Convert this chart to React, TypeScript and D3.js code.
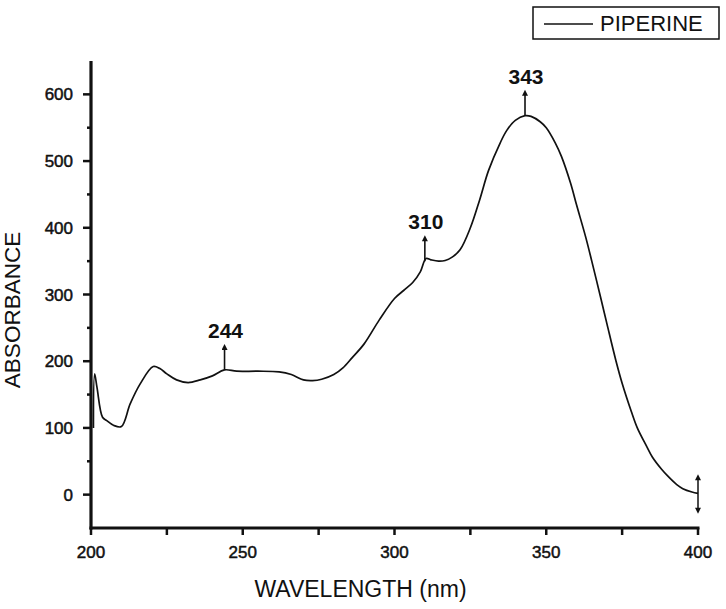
import * as d3 from 'd3';
import { useEffect, useRef } from 'react';

// UV-Vis spectrum of piperine
const wavelength = [
  200.8, 201.2, 202, 203.8, 205.2, 207.4, 210, 212.9, 216.2, 220.5, 222.7, 225, 228.2, 232, 236, 240, 244,
  248, 255, 262, 266, 270, 273, 276, 280, 283, 286, 290, 295, 300, 303, 306, 308.5, 310.4, 312, 314.5, 316.7,
  319, 321.6, 325, 328, 331, 334.8, 337, 339.8, 343, 345, 348, 350, 353, 355, 358, 360, 363, 365, 368, 370,
  373, 375, 378, 380, 383, 385, 388, 390, 393, 395, 398, 400,
];
const absorbance = [
  100, 181, 160, 116, 111, 104, 102, 136, 166, 192, 189, 181, 172, 168, 172, 178, 187,
  185, 185, 184, 180, 172, 171, 173, 180, 190, 205, 226, 262, 294, 306, 318, 334, 354, 352, 350, 351,
  356, 367, 400, 441, 486, 527, 546, 561, 568, 567, 559, 550, 527, 507, 467, 434, 386, 350, 294, 256,
  200, 167, 125, 100, 73, 56, 38, 28, 15, 9, 4, 2,
];

const xTicks = [200, 250, 300, 350, 400];
const xMinor = [225, 275, 325, 375];
const yTicks = [0, 100, 200, 300, 400, 500, 600];
const yMinor = [50, 150, 250, 350, 450, 550];

const peaks = [244, 310, 343];

const FONT = '"Liberation Sans", Arial, Helvetica, sans-serif';
const INK = '#111';

const App = () => {
  const svgRef = useRef<SVGSVGElement>(null);

  useEffect(() => {
    const width = 726;
    const height = 609;

    const svg = d3.select(svgRef.current);
    svg.selectAll('*').remove();
    svg.attr('width', width).attr('height', height);

    svg.append('rect').attr('width', width).attr('height', height).attr('fill', '#fff');

    const x = d3.scaleLinear().domain([200, 400]).range([91, 698]);
    const y = d3.scaleLinear().domain([-50, 650]).range([528, 61]);

    const defs = svg.append('defs');
    const head = (id: string, orient: string) =>
      defs
        .append('marker')
        .attr('id', id)
        .attr('viewBox', '0 0 10 10')
        .attr('refX', 5)
        .attr('refY', 5)
        .attr('markerWidth', 6)
        .attr('markerHeight', 7)
        .attr('markerUnits', 'userSpaceOnUse')
        .attr('orient', orient)
        .append('path')
        .attr('d', 'M0,10 L5,0 L10,10 Z')
        .attr('fill', INK);
    head('tip', '0');
    head('tipDown', '180');

    // spectrum
    const pts = wavelength.map((w, i) => [w, absorbance[i]] as [number, number]);
    const line = d3
      .line<[number, number]>()
      .x((d) => x(d[0]))
      .y((d) => y(d[1]))
      .curve(d3.curveCatmullRom.alpha(0.5));

    svg.append('path')
      .datum(pts)
      .attr('d', line)
      .attr('fill', 'none')
      .attr('stroke', INK)
      .attr('stroke-width', 1.7);

    // faint baseline marker at the start of the scan
    svg.append('line')
      .attr('x1', x(200)).attr('x2', x(200))
      .attr('y1', y(96)).attr('y2', y(41))
      .attr('stroke', '#777')
      .attr('stroke-width', 1.2)
      .attr('stroke-dasharray', '3,6');

    // double arrow at the end of the scan
    svg.append('line')
      .attr('x1', x(400)).attr('x2', x(400))
      .attr('y1', y(26)).attr('y2', y(-24))
      .attr('stroke', INK)
      .attr('stroke-width', 1.5)
      .attr('marker-start', 'url(#tip)')
      .attr('marker-end', 'url(#tipDown)');

    // peak annotations
    const interp = d3.scaleLinear().domain(wavelength).range(absorbance);
    peaks.forEach((p) => {
      const px = x(p);
      const base = y(interp(p));
      const tipY = base - 26;
      svg.append('line')
        .attr('x1', px).attr('x2', px)
        .attr('y1', base).attr('y2', tipY + 3)
        .attr('stroke', INK)
        .attr('stroke-width', 1.6)
        .attr('marker-end', 'url(#tip)');
      svg.append('text')
        .attr('x', px + 1)
        .attr('y', tipY - 6)
        .attr('text-anchor', 'middle')
        .attr('font-family', FONT)
        .attr('font-weight', 'bold')
        .attr('font-size', 21)
        .attr('fill', INK)
        .text(p);
    });

    // axes
    const tickText = (sel: d3.Selection<SVGTextElement, unknown, null, undefined>) =>
      sel
        .attr('font-family', FONT)
        .attr('font-size', 17)
        .attr('fill', INK)
        .attr('stroke', INK)
        .attr('stroke-width', 0.5);

    const xAxis = svg.append('g').attr('transform', `translate(0, ${y(-50)})`);
    xAxis.append('line').attr('x1', x(200) - 1.5).attr('x2', x(400) + 1.5).attr('stroke', INK).attr('stroke-width', 3.2);
    [...xTicks, ...xMinor].forEach((t) => {
      xAxis.append('line').attr('x1', x(t)).attr('x2', x(t)).attr('y1', 0).attr('y2', 7).attr('stroke', INK).attr('stroke-width', 2.5);
    });
    xTicks.forEach((t) => {
      xAxis.append('text')
        .attr('x', x(t))
        .attr('y', 30)
        .attr('text-anchor', 'middle')
        .call(tickText)
        .text(t);
    });

    const yAxis = svg.append('g').attr('transform', `translate(${x(200)}, 0)`);
    yAxis.append('line').attr('y1', y(-50) + 1.6).attr('y2', y(650)).attr('stroke', INK).attr('stroke-width', 3.2);
    yTicks.forEach((t) => {
      yAxis.append('line').attr('x1', -8).attr('x2', 0).attr('y1', y(t)).attr('y2', y(t)).attr('stroke', INK).attr('stroke-width', 2.5);
      yAxis.append('text')
        .attr('x', -18)
        .attr('y', y(t) + 6)
        .attr('text-anchor', 'end')
        .call(tickText)
        .text(t);
    });
    yMinor.forEach((t) => {
      yAxis.append('line').attr('x1', -4).attr('x2', 0).attr('y1', y(t)).attr('y2', y(t)).attr('stroke', INK).attr('stroke-width', 2.5);
    });

    // axis titles
    svg.append('text')
      .attr('x', (x(200) + x(400)) / 2 - 34)
      .attr('y', 597)
      .attr('text-anchor', 'middle')
      .attr('font-family', FONT)
      .attr('font-size', 23)
      .attr('fill', INK)
      .text('WAVELENGTH (nm)');

    svg.append('text')
      .attr('transform', `translate(20, 310) rotate(-90)`)
      .attr('text-anchor', 'middle')
      .attr('font-family', FONT)
      .attr('font-size', 22.5)
      .attr('fill', INK)
      .text('ABSORBANCE');

    // legend
    const legend = svg.append('g');
    legend.append('rect')
      .attr('x', 533).attr('y', 7).attr('width', 186).attr('height', 32)
      .attr('fill', 'none').attr('stroke', INK).attr('stroke-width', 1.5);
    legend.append('line')
      .attr('x1', 544).attr('x2', 593).attr('y1', 24).attr('y2', 24)
      .attr('stroke', INK).attr('stroke-width', 1.6);
    legend.append('text')
      .attr('x', 600).attr('y', 31)
      .attr('font-family', FONT)
      .attr('font-size', 22)
      .attr('fill', INK)
      .text('PIPERINE');
  }, []);

  return <svg ref={svgRef} style={{ position: 'absolute', left: 0, top: 0 }} />;
};

export default App;
